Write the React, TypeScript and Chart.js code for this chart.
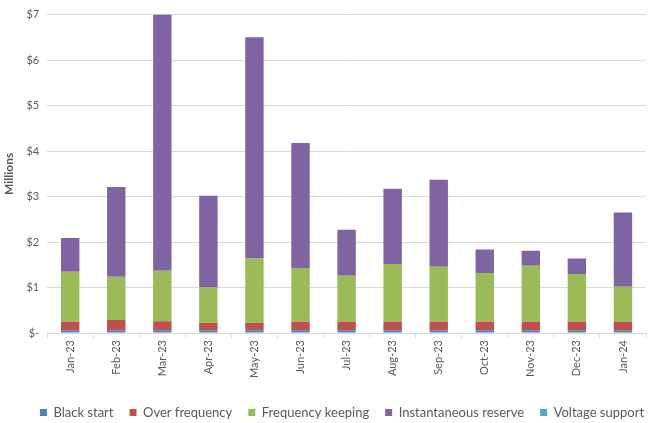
import React, { useEffect, useRef } from "react";
import { Chart, registerables } from "chart.js";

Chart.register(...registerables);

const months = ["Jan-23", "Feb-23", "Mar-23", "Apr-23", "May-23", "Jun-23", "Jul-23", "Aug-23", "Sep-23", "Oct-23", "Nov-23", "Dec-23", "Jan-24"];
const blackStart = [0.06, 0.06, 0.06, 0.06, 0.06, 0.06, 0.06, 0.06, 0.06, 0.06, 0.06, 0.06, 0.06];
const overFrequency = [0.19, 0.23, 0.2, 0.16, 0.16, 0.19, 0.19, 0.19, 0.19, 0.19, 0.19, 0.19, 0.19];
const frequencyKeeping = [1.1, 0.95, 1.11, 0.78, 1.42, 1.18, 1.01, 1.27, 1.21, 1.07, 1.23, 1.05, 0.77];
const instantaneousReserve = [0.74, 1.97, 5.63, 2.02, 4.86, 2.75, 1.01, 1.65, 1.91, 0.52, 0.33, 0.34, 1.63];
const voltageSupport = [0, 0, 0, 0, 0, 0, 0, 0, 0, 0, 0, 0, 0];
const yTicks = [0, 1, 2, 3, 4, 5, 6, 7];

const shiftLegend = {
  id: "shiftLegend",
  afterLayout(chart: any) {
    const lg = chart.legend;
    if (lg) {
      lg.left += 19;
      lg.right += 19;
    }
  },
};

export default function App() {
  const ref = useRef<HTMLCanvasElement>(null);
  useEffect(() => {
    document.body.style.margin = "0";
    const font = "Lato, 'Open Sans', sans-serif";
    const chart = new Chart(ref.current!, {
      type: "bar",
      data: {
        labels: months,
        datasets: [
          { label: "Black start", data: blackStart, backgroundColor: "#4f81bd" },
          { label: "Over frequency", data: overFrequency, backgroundColor: "#c0504d" },
          { label: "Frequency keeping", data: frequencyKeeping, backgroundColor: "#9bbb59" },
          { label: "Instantaneous reserve", data: instantaneousReserve, backgroundColor: "#8064a2" },
          { label: "Voltage support", data: voltageSupport, backgroundColor: "#4bacc6" },
        ],
      },
      plugins: [shiftLegend],
      options: {
        responsive: false,
        animation: false,
        layout: { padding: { left: 0, right: 6, top: 9, bottom: 0 } },
        datasets: { bar: { categoryPercentage: 1, barPercentage: 0.4 } },
        plugins: {
          tooltip: { enabled: false },
          legend: {
            position: "bottom",
            labels: {
              boxWidth: 7,
              boxHeight: 7,
              padding: 16,
              color: "#595959",
              font: { family: font, size: 13 },
            },
          },
        },
        scales: {
          x: {
            stacked: true,
            afterFit: (axis: any) => {
              axis.height += 10;
            },
            border: { color: "#d9d9d9" },
            grid: { offset: true, drawOnChartArea: false, drawTicks: true, tickLength: 5, color: "#d9d9d9" },
            ticks: { minRotation: 90, maxRotation: 90, color: "#595959", font: { family: font, size: 11 }, padding: 2 },
          },
          y: {
            stacked: true,
            min: 0,
            max: 7,
            afterBuildTicks: (axis: any) => {
              axis.ticks = yTicks.map((v) => ({ value: v }));
            },
            border: { display: false },
            grid: { color: "#d9d9d9", drawTicks: false },
            title: { display: true, text: "Millions", color: "#595959", font: { family: font, size: 12, weight: "bold" }, padding: 2 },
            ticks: {
              color: "#595959",
              font: { family: font, size: 11 },
              padding: 8,
              callback: (v: any) => (v === 0 ? "$-" : "$" + v),
            },
          },
        },
      },
    });
    return () => chart.destroy();
  }, []);
  return (
    <div style={{ width: 652, height: 423, overflow: "hidden" }}>
      <canvas ref={ref} width={652} height={429} />
    </div>
  );
}
